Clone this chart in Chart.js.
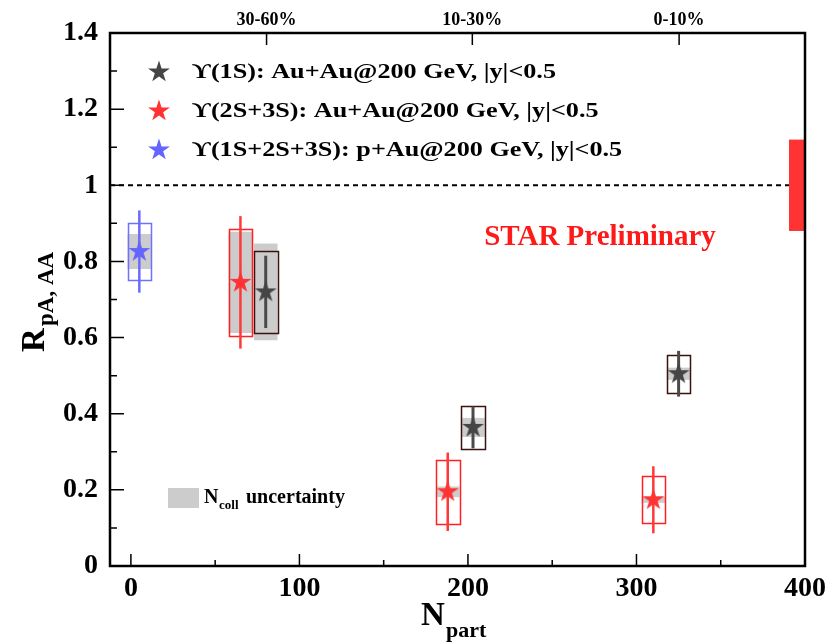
<!DOCTYPE html>
<html>
<head>
<meta charset="utf-8">
<script src="https://cdn.jsdelivr.net/npm/chart.js@4.4.1/dist/chart.umd.min.js"></script>
<style>
  html, body { margin: 0; padding: 0; background: #fff; }
  #wrap { width: 827px; height: 643px; }
</style>
</head>
<body>
<div id="wrap"><canvas id="chart" width="827" height="643"></canvas></div>
<script>
/* ---------- Data ---------- */
var SERIES_LABELS = [
  'ϒ(1S): Au+Au@200 GeV, |y|<0.5',
  'ϒ(2S+3S): Au+Au@200 GeV, |y|<0.5',
  'ϒ(1S+2S+3S): p+Au@200 GeV, |y|<0.5'
];

// Upsilon(1S), Au+Au
var NPART_1S = [80, 203, 325];
var RAA_1S = [0.72, 0.364, 0.505];
var STAT_1S = [0.095, 0.055, 0.06];
var SYS_1S = [0.107, 0.057, 0.05];
var NCOLL_1S = [0.127, 0.025, 0.016];

// Upsilon(2S+3S), Au+Au
var NPART_23S = [65, 188, 310];
var RAA_23S = [0.745, 0.195, 0.174];
var STAT_23S = [0.174, 0.103, 0.088];
var SYS_23S = [0.141, 0.084, 0.062];
var NCOLL_23S = [0.133, 0.014, 0.008];

// Upsilon(1S+2S+3S), p+Au
var NPART_PAU = [5];
var RPA_PAU = [0.826];
var STAT_PAU = [0.108];
var SYS_PAU = [0.075];
var NCOLL_PAU = [0.046];

// global uncertainty band drawn at unity, right edge
var GLOBAL_UNC = 0.12;
var GLOBAL_NPART = [390.5, 400];

// axes
var X_TICKS = [0, 100, 200, 300, 400];
var X_MINOR = [50, 150, 250, 350];
var Y_TICKS = [0, 0.2, 0.4, 0.6, 0.8, 1, 1.2, 1.4];
var Y_MINOR = [0.1, 0.3, 0.5, 0.7, 0.9, 1.1, 1.3];
var CENT_LABELS = ['30-60%', '10-30%', '0-10%'];
var CENT_NPART = [80.5, 202.6, 325.3];

/* ---------- Styles ---------- */
var SERIF = "'Liberation Serif', 'Times New Roman', serif";
var BOX_HALF = 7;   // half width of systematic boxes, in Npart
var GRAY = '#cccccc';
var STAR_R = 11.5;
var STYLES = [
  { star: '#454545', bar: '#4a4a4a', barW: 3, box: '#3a1212' },
  { star: '#ff3333', bar: '#ff3838', barW: 2.5, box: '#ff2020' },
  { star: '#6464ff', bar: '#6a6aff', barW: 2.5, box: '#7070ff' }
];

var GROUPS = [
  { x: NPART_1S, y: RAA_1S, stat: STAT_1S, sys: SYS_1S, ncoll: NCOLL_1S },
  { x: NPART_23S, y: RAA_23S, stat: STAT_23S, sys: SYS_23S, ncoll: NCOLL_23S },
  { x: NPART_PAU, y: RPA_PAU, stat: STAT_PAU, sys: SYS_PAU, ncoll: NCOLL_PAU }
];

function drawStar(g, cx, cy, r, color) {
  g.beginPath();
  for (var i = 0; i < 10; i++) {
    var a = -Math.PI / 2 + i * Math.PI / 5;
    var rr = (i % 2) ? r * 0.382 : r;
    g.lineTo(cx + rr * Math.cos(a), cy + rr * Math.sin(a));
  }
  g.closePath();
  g.fillStyle = color;
  g.fill();
}

function starCanvas(color, r) {
  var c = document.createElement('canvas');
  var s = Math.ceil(r * 2 + 2);
  c.width = s; c.height = s;
  drawStar(c.getContext('2d'), s / 2, s / 2, r, color);
  return c;
}

// draws text stretched horizontally by sx
function wideText(ctx, txt, x, y, sx) {
  ctx.save();
  ctx.translate(x, y);
  ctx.scale(sx, 1);
  ctx.fillText(txt, 0, 0);
  ctx.restore();
}

/* ---------- Error bars, boxes, unity line ---------- */
var uncertaintyPlugin = {
  id: 'uncertainty',
  beforeDatasetsDraw: function (chart) {
    var ctx = chart.ctx, xs = chart.scales.x, ys = chart.scales.y, a = chart.chartArea;
    ctx.save();

    // unity line
    var y1 = ys.getPixelForValue(1);
    ctx.strokeStyle = '#000';
    ctx.lineWidth = 2;
    ctx.setLineDash([5, 4]);
    ctx.beginPath();
    ctx.moveTo(a.left, y1);
    ctx.lineTo(xs.getPixelForValue(GLOBAL_NPART[0]), y1);
    ctx.stroke();
    ctx.setLineDash([]);

    // global uncertainty
    ctx.fillStyle = '#ff3333';
    var gx0 = xs.getPixelForValue(GLOBAL_NPART[0]), gx1 = xs.getPixelForValue(GLOBAL_NPART[1]);
    var gy0 = ys.getPixelForValue(1 + GLOBAL_UNC), gy1 = ys.getPixelForValue(1 - GLOBAL_UNC);
    ctx.fillRect(gx0, gy0, gx1 - gx0, gy1 - gy0);

    // Ncoll bands
    GROUPS.forEach(function (g) {
      g.x.forEach(function (xv, i) {
        var x0 = xs.getPixelForValue(xv - BOX_HALF), x1 = xs.getPixelForValue(xv + BOX_HALF);
        var n0 = ys.getPixelForValue(g.y[i] + g.ncoll[i]), n1 = ys.getPixelForValue(g.y[i] - g.ncoll[i]);
        ctx.fillStyle = GRAY;
        ctx.fillRect(x0, n0, x1 - x0, n1 - n0);
      });
    });

    // systematic boxes + statistical bars
    GROUPS.forEach(function (g, gi) {
      var st = STYLES[gi];
      g.x.forEach(function (xv, i) {
        var x0 = Math.round(xs.getPixelForValue(xv - BOX_HALF)) + 0.5;
        var x1 = Math.round(xs.getPixelForValue(xv + BOX_HALF)) + 0.5;
        var s0 = Math.round(ys.getPixelForValue(g.y[i] + g.sys[i])) + 0.5;
        var s1 = Math.round(ys.getPixelForValue(g.y[i] - g.sys[i])) + 0.5;
        ctx.strokeStyle = st.box;
        ctx.lineWidth = 1.5;
        ctx.strokeRect(x0, s0, x1 - x0, s1 - s0);

        var xc = xs.getPixelForValue(xv);
        ctx.strokeStyle = st.bar;
        ctx.lineWidth = st.barW;
        ctx.beginPath();
        ctx.moveTo(xc, ys.getPixelForValue(g.y[i] + g.stat[i]));
        ctx.lineTo(xc, ys.getPixelForValue(g.y[i] - g.stat[i]));
        ctx.stroke();
      });
    });
    ctx.restore();
  },

  afterDraw: function (chart) {
    var ctx = chart.ctx, xs = chart.scales.x, ys = chart.scales.y, a = chart.chartArea;
    ctx.save();

    // frame
    ctx.strokeStyle = '#000';
    ctx.lineWidth = 2.5;
    ctx.strokeRect(a.left, a.top, a.right - a.left, a.bottom - a.top);

    // inward tick marks
    ctx.lineWidth = 1.5;
    ctx.beginPath();
    X_TICKS.forEach(function (v) {
      var x = xs.getPixelForValue(v);
      ctx.moveTo(x, a.bottom); ctx.lineTo(x, a.bottom - 12);
    });
    X_MINOR.forEach(function (v) {
      var x = xs.getPixelForValue(v);
      ctx.moveTo(x, a.bottom); ctx.lineTo(x, a.bottom - 6);
    });
    Y_TICKS.forEach(function (v) {
      var y = ys.getPixelForValue(v);
      ctx.moveTo(a.left, y); ctx.lineTo(a.left + 14, y);
    });
    Y_MINOR.forEach(function (v) {
      var y = ys.getPixelForValue(v);
      ctx.moveTo(a.left, y); ctx.lineTo(a.left + 7, y);
    });
    CENT_NPART.forEach(function (v) {
      var x = xs.getPixelForValue(v);
      ctx.moveTo(x, a.top); ctx.lineTo(x, a.top + 12);
    });
    ctx.stroke();

    // legend
    ctx.textBaseline = 'middle';
    ctx.textAlign = 'left';
    ctx.font = 'bold 21px ' + SERIF;
    var sx = 364 / ctx.measureText(SERIES_LABELS[0]).width;
    var legY = [72, 111, 150];
    SERIES_LABELS.forEach(function (lab, i) {
      drawStar(ctx, 159, legY[i], STAR_R, STYLES[i].star);
      ctx.fillStyle = '#000';
      wideText(ctx, lab, 192, legY[i] + 1, sx);
    });

    // STAR Preliminary
    ctx.fillStyle = '#ff1a1a';
    ctx.textAlign = 'center';
    ctx.font = 'bold 29px ' + SERIF;
    ctx.fillText('STAR Preliminary', 600, 238);

    // Ncoll uncertainty key
    ctx.fillStyle = GRAY;
    ctx.fillRect(168, 488, 31, 20);
    ctx.fillStyle = '#000';
    ctx.textAlign = 'left';
    ctx.textBaseline = 'alphabetic';
    ctx.font = 'bold 20px ' + SERIF;
    ctx.fillText('N', 204, 503);
    ctx.font = 'bold 13px ' + SERIF;
    ctx.fillText('coll', 219, 509);
    ctx.font = 'bold 20px ' + SERIF;
    ctx.fillText('uncertainty', 246, 503);

    // x title
    ctx.font = 'bold 33px ' + SERIF;
    ctx.fillText('N', 421, 625);
    ctx.font = 'bold 22px ' + SERIF;
    ctx.fillText('part', 446, 637);

    // y title
    ctx.save();
    ctx.translate(44, 352);
    ctx.rotate(-Math.PI / 2);
    ctx.font = 'bold 33px ' + SERIF;
    ctx.fillText('R', 0, 0);
    ctx.font = 'bold 23px ' + SERIF;
    ctx.fillText('pA, AA', 26, 9);
    ctx.restore();

    ctx.restore();
  }
};

function fixPadding(height, width) {
  return function (s) {
    if (height !== null) s.height = height;
    if (width !== null) s.width = width;
    s.paddingLeft = 0; s.paddingRight = 0; s.paddingTop = 0; s.paddingBottom = 0;
  };
}

var datasets = GROUPS.map(function (g, gi) {
  return {
    label: SERIES_LABELS[gi],
    data: g.x.map(function (xv, i) { return { x: xv, y: g.y[i] }; }),
    pointStyle: starCanvas(STYLES[gi].star, STAR_R),
    pointRadius: STAR_R,
    showLine: false
  };
});

new Chart(document.getElementById('chart'), {
  type: 'scatter',
  data: { datasets: datasets },
  options: {
    responsive: false,
    animation: false,
    layout: { padding: { left: 0, right: 22, top: 0, bottom: 0 } },
    plugins: { legend: { display: false }, tooltip: { enabled: false } },
    scales: {
      x: {
        type: 'linear', position: 'bottom', min: -12.4, max: 400,
        afterBuildTicks: function (s) { s.ticks = X_TICKS.map(function (v) { return { value: v }; }); },
        ticks: {
          autoSkip: false, maxRotation: 0, padding: -2, color: '#000',
          font: { family: SERIF, size: 28, weight: 'bold' },
          callback: function (v) { return String(v); }
        },
        grid: { display: false },
        border: { display: false },
        afterFit: fixPadding(77, null)
      },
      xTop: {
        type: 'linear', position: 'top', min: -12.4, max: 400,
        afterBuildTicks: function (s) { s.ticks = CENT_NPART.map(function (v) { return { value: v }; }); },
        ticks: {
          autoSkip: false, maxRotation: 0, padding: -6, color: '#000',
          font: { family: SERIF, size: 18, weight: 'bold' },
          callback: function (v, i) { return CENT_LABELS[i]; }
        },
        grid: { display: false },
        border: { display: false },
        afterFit: fixPadding(33, null)
      },
      y: {
        min: 0, max: 1.4,
        afterBuildTicks: function (s) { s.ticks = Y_TICKS.map(function (v) { return { value: v }; }); },
        ticks: {
          autoSkip: false, padding: 4, color: '#000',
          font: { family: SERIF, size: 28, weight: 'bold' },
          callback: function (v) { return String(v); }
        },
        grid: { display: false },
        border: { display: false },
        afterFit: fixPadding(null, 110)
      }
    }
  },
  plugins: [uncertaintyPlugin]
});
</script>
</body>
</html>
